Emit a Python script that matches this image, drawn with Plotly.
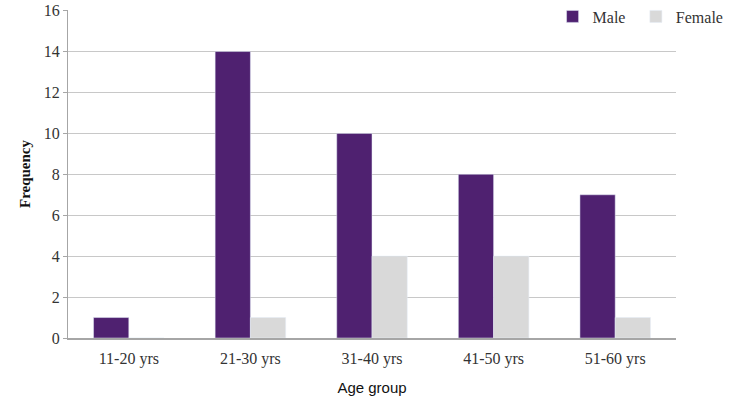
import plotly.graph_objects as go

age_groups = ['11-20 yrs', '21-30 yrs', '31-40 yrs', '41-50 yrs', '51-60 yrs']
male = [1, 14, 10, 8, 7]
female = [0, 1, 4, 4, 1]

serif = 'Liberation Serif, Times New Roman, serif'

fig = go.Figure()
fig.add_trace(go.Bar(x=age_groups, y=male, name='Male', marker_color='#4F2170', legend='legend'))
fig.add_trace(go.Bar(x=age_groups, y=female, name='Female', marker_color='#D9D9D9', legend='legend2'))

leg = dict(orientation='h', xanchor='left', y=1.032, yanchor='top',
           font=dict(family=serif, size=16, color='#333333'),
           bgcolor='rgba(0,0,0,0)')

fig.update_layout(
    width=750, height=403,
    margin=dict(l=68, r=74, t=10, b=65, autoexpand=False),
    plot_bgcolor='white', paper_bgcolor='white',
    barmode='group', bargap=0.42, bargroupgap=0,
    font=dict(family=serif, size=16, color='#333333'),
    legend=dict(leg, x=0.797),
    legend2=dict(leg, x=0.934),
    showlegend=True,
)
fig.update_xaxes(
    showline=True, linecolor='#A6A6A6', linewidth=1.5,
    ticks='', showgrid=False, ticklabelstandoff=5,
    title=dict(text='Age group', font=dict(family='Liberation Sans, Arial, sans-serif', size=15, color='#111111'),
               standoff=16),
)
fig.update_yaxes(
    range=[0, 16.03], tickvals=[0, 2, 4, 6, 8, 10, 12, 14, 16],
    showline=True, linecolor='#A6A6A6', linewidth=1,
    ticks='outside', ticklen=4, tickcolor='#A6A6A6',
    showgrid=True, gridcolor='#C8C8C8', gridwidth=1,
    zeroline=False, ticklabeloverflow='allow',
    title=dict(text='<b>Frequency</b>', font=dict(family=serif, size=15, color='#111111'), standoff=9),
)

# drop the default 8px body margin so the figure fills the window
fig.write_html('out.html', config={'displayModeBar': False},
               post_script="document.body.style.margin='0';")
